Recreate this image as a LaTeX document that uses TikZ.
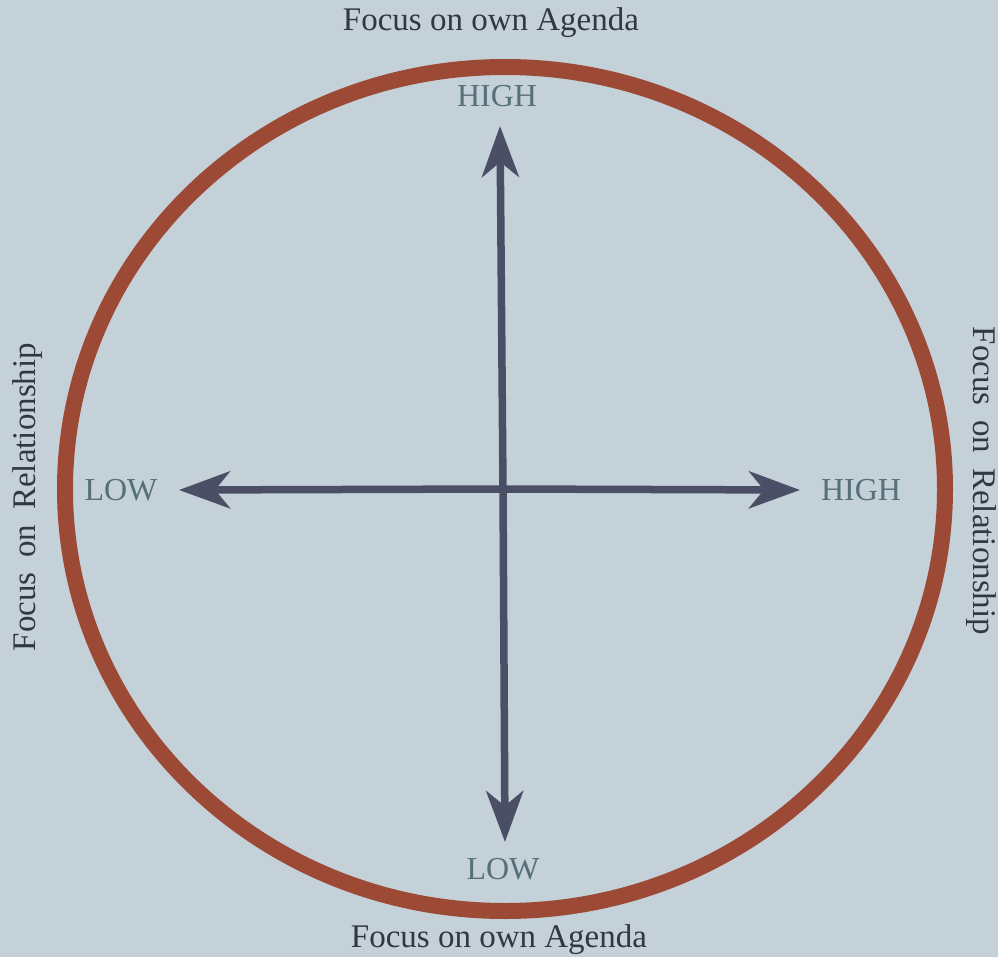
\documentclass[tikz,border=0pt]{standalone}
\usepackage{fontspec}
\setmainfont{Liberation Serif}
\usetikzlibrary{arrows.meta}
\definecolor{bg}{HTML}{C5D1D8}
\definecolor{ring}{HTML}{9C4936}
\definecolor{axis}{HTML}{4A4F65}
\definecolor{lbl}{HTML}{56707A}
\definecolor{ttl}{HTML}{2E3A3E}
\tikzset{
  axisline/.style={draw=axis, line width=7.5pt, -{Stealth[length=51pt,width=37pt,inset=15pt]}},
  axlabel/.style={text=lbl, font=\fontsize{32}{32}\selectfont, inner sep=0pt},
  title/.style={text=ttl, font=\fontsize{33}{33}\selectfont, inner sep=0pt},
}
\begin{document}
\begin{tikzpicture}[x=1pt,y=-1pt]
\fill[bg] (0,0) rectangle (998,957);
\useasboundingbox (0,0) rectangle (998,957);
\draw[ring, line width=16pt] (505,489) ellipse [x radius=440, y radius=422];
\coordinate (c) at (503,489);
\coordinate (tTop) at (500,126);
\coordinate (tBot) at (505,842);
\coordinate (tL) at (179,490);
\coordinate (tR) at (800,490);
\draw[axisline] (c) -- (tTop);
\draw[axisline] (c) -- (tBot);
\draw[axisline] (c) -- (tL);
\draw[axisline] (c) -- (tR);
\node[axlabel] (hTop) at (497,96) {HIGH};
\node[axlabel] (lBot) at (503,869) {LOW};
\node[axlabel] (lL) at (121,490) {LOW};
\node[axlabel] (hR) at (861,490) {HIGH};
\node[title] (top) at (491,23) {Focus on own Agenda};
\node[title] (bot) at (499,940) {Focus on own Agenda};
\node[title, rotate=90] (left) at (28,497) {Focus\hspace{0.2em} on\hspace{0.2em} Relationship};
\node[title, rotate=-90] (right) at (981,481) {Focus\hspace{0.2em} on\hspace{0.2em} Relationship};
\end{tikzpicture}
\end{document}
